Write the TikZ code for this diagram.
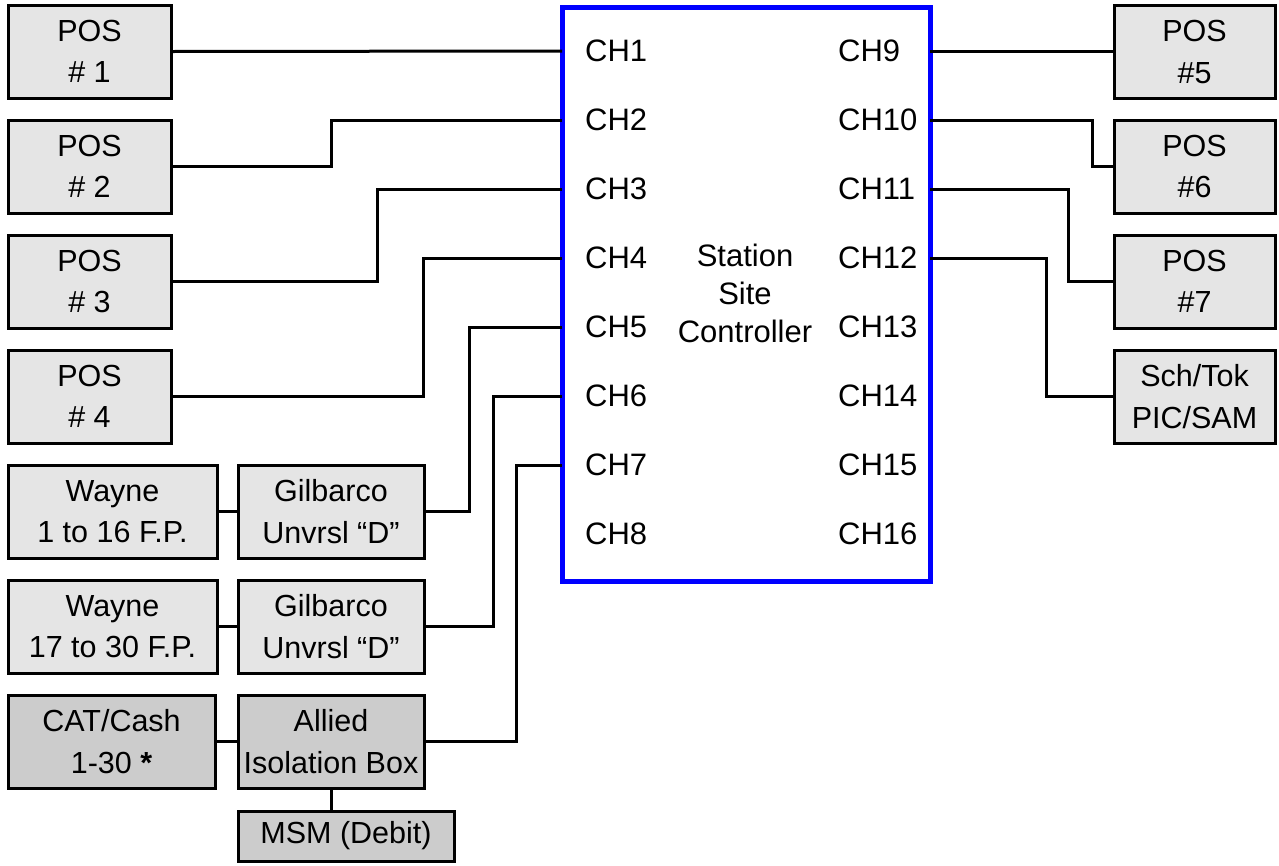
\documentclass[tikz,border=0pt]{standalone}
\usepackage{fontspec}
\setmainfont{Liberation Sans}
\definecolor{boxlight}{RGB}{229,229,229}
\definecolor{boxdark}{RGB}{204,204,204}
\definecolor{sscblue}{RGB}{0,0,255}
\begin{document}
\begin{tikzpicture}[x=1pt,y=-1pt,
  base/.style={draw=black,line width=3pt,rectangle,inner sep=0pt,align=center,
    font=\fontsize{30.5}{41.5}\selectfont},
  lbox/.style={base,fill=boxlight,minimum width=163pt,minimum height=93pt},
  rbox/.style={base,fill=boxlight,minimum width=161pt,minimum height=93pt},
  wbox/.style={base,fill=boxlight,minimum width=209pt,minimum height=93pt},
  gbox/.style={base,fill=boxlight,minimum width=186pt,minimum height=93pt},
  dbox/.style={base,fill=boxdark,minimum width=186pt,minimum height=93pt},
  chl/.style={anchor=west,inner sep=0pt,font=\fontsize{31}{35}\selectfont},
  wire/.style={draw=black,line width=3pt}]
\useasboundingbox (0,0) rectangle (1279,865);

% controller
\node[draw=sscblue,line width=5pt,rectangle,minimum width=368pt,minimum height=574pt,inner sep=0pt] (ssc) at (746,294) {};
\node[align=center,font=\fontsize{31}{38}\selectfont] (ssctext) at (745,293) {Station\\Site\\Controller};

% channel labels
\foreach \i/\y in {1/51,2/120,3/189,4/258,5/327,6/396,7/465,8/534}{
  \node[chl] (ch\i) at (585,\y) {CH\i};
  \coordinate (L\i) at (562,\y);
}
\foreach \i/\y in {9/51,10/120,11/189,12/258,13/327,14/396,15/465,16/534}{
  \node[chl] (ch\i) at (838,\y) {CH\i};
  \coordinate (R\i) at (930,\y);
}

% left boxes
\node[lbox] (pos1) at (89.5,51.5) {POS\\\# 1};
\node[lbox] (pos2) at (89.5,166.5) {POS\\\# 2};
\node[lbox] (pos3) at (89.5,281.5) {POS\\\# 3};
\node[lbox] (pos4) at (89.5,396.5) {POS\\\# 4};
\node[wbox] (wayne1) at (112.5,511.5) {Wayne\\1 to 16 F.P.};
\node[wbox] (wayne2) at (112.5,626.5) {Wayne\\17 to 30 F.P.};
\node[base,fill=boxdark,minimum width=207pt,minimum height=93pt] (cat) at (111.5,741.5) {CAT/Cash\\1-30 \textbf{*}};
\node[gbox] (gil1) at (331,511.5) {Gilbarco\\Unvrsl “D”};
\node[gbox] (gil2) at (331,626.5) {Gilbarco\\Unvrsl “D”};
\node[dbox] (allied) at (331,741.5) {Allied\\Isolation Box};
\node[base,fill=boxdark,minimum width=216pt,minimum height=50pt] (msm) at (346,836) {MSM (Debit)};

% right boxes
\node[rbox] (pos5) at (1194.5,52) {POS\\\#5};
\node[rbox] (pos6) at (1194.5,166.5) {POS\\\#6};
\node[rbox] (pos7) at (1194.5,281.5) {POS\\\#7};
\node[rbox] (schtok) at (1194.5,396.5) {Sch/Tok\\PIC/SAM};

% left wires
\draw[wire] (pos1.east) -- (L1);
\draw[wire] (pos2.east) -- (331,166.5) |- (L2);
\draw[wire] (pos3.east) -- (377,281.5) |- (L3);
\draw[wire] (pos4.east) -- (423,396.5) |- (L4);
\draw[wire] (gil1.east) -- (469,511.5) |- (L5);
\draw[wire] (gil2.east) -- (493,626.5) |- (L6);
\draw[wire] (allied.east) -- (516,741.5) |- (L7);
\draw[wire] (wayne1.east) -- (gil1.west);
\draw[wire] (wayne2.east) -- (gil2.west);
\draw[wire] (cat.east) -- (allied.west);
\draw[wire] (allied.south) -- (allied.south |- msm.north);

% right wires
\draw[wire] (R9) -- (pos5.west |- R9);
\draw[wire] (R10) -- (1092,120) |- (pos6.west);
\draw[wire] (R11) -- (1068,189) |- (pos7.west);
\draw[wire] (R12) -- (1046,258) |- (schtok.west);
\end{tikzpicture}
\end{document}
